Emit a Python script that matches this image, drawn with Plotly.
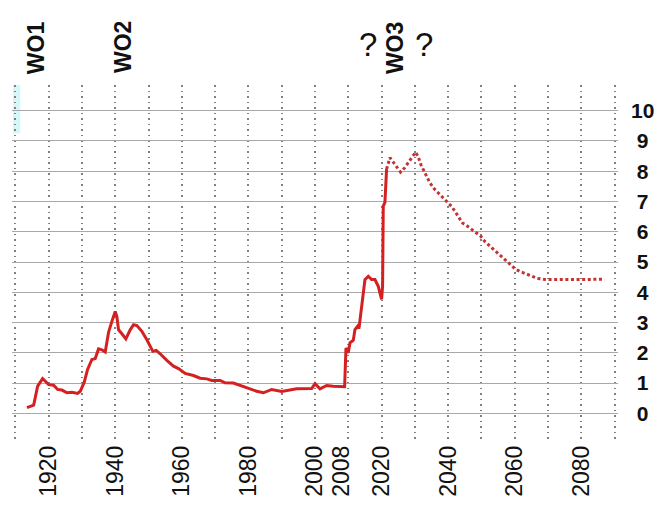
import plotly.graph_objects as go

# ---- data ----
years_actual = [1913.5, 1915.5, 1916.7, 1918.2, 1920, 1921.5, 1922.7, 1924, 1925.5, 1927,
                1928.7, 1929.5, 1930.7, 1931.7, 1933, 1934, 1935, 1936, 1937, 1938,
                1939, 1940, 1940.5, 1941, 1942, 1943.2, 1944.5, 1945.5, 1946.5, 1948,
                1949.5, 1951.3, 1952.3, 1953.5, 1955.5, 1957.5, 1959, 1961, 1963.5, 1965.5,
                1967.5, 1969, 1971.5, 1973, 1975.5, 1977.5, 1980, 1982.5, 1984.5, 1987,
                1990, 1992.5, 1994.5, 1999, 2000, 2001.5, 2003.5, 2005.5, 2007.5, 2008.9,
                2009.3, 2010, 2010.5, 2011.5, 2012, 2012.8, 2013.2, 2014, 2015, 2016,
                2017, 2018, 2019, 2020, 2020.3, 2020.5, 2021, 2021.5]
values_actual = [0.19, 0.27, 0.9, 1.15, 0.95, 0.93, 0.79, 0.77, 0.68, 0.7,
                 0.66, 0.73, 1.03, 1.45, 1.78, 1.81, 2.13, 2.1, 2.03, 2.68,
                 3.04, 3.37, 3.2, 2.76, 2.63, 2.46, 2.76, 2.93, 2.9, 2.71,
                 2.43, 2.05, 2.08, 1.97, 1.75, 1.56, 1.48, 1.32, 1.25, 1.16,
                 1.14, 1.09, 1.09, 1.01, 1.0, 0.92, 0.81, 0.73, 0.68, 0.79,
                 0.72, 0.77, 0.81, 0.82, 0.98, 0.81, 0.92, 0.9, 0.88, 0.88,
                 2.16, 2.0, 2.33, 2.42, 2.77, 2.88, 2.8, 3.55, 4.42, 4.53,
                 4.42, 4.42, 4.2, 3.77, 4.2, 6.85, 6.97, 8.07]

years_forecast = [2021.5, 2022.5, 2023.5, 2024.5, 2025.7, 2026.9, 2028, 2029, 2030.2, 2031,
                  2031.8, 2033, 2034.5, 2035.8, 2037.3, 2038.6, 2040, 2041, 2042, 2043.3,
                  2044.3, 2045.6, 2047, 2048.4, 2049.8, 2051, 2052.3, 2053.6, 2054.8, 2056,
                  2057.5, 2059, 2060.3, 2061.8, 2063.6, 2065.3, 2066.8, 2068.6, 2070.3, 2087]
values_forecast = [8.07, 8.45, 8.3, 8.13, 7.97, 8.11, 8.28, 8.45, 8.63, 8.48,
                   8.22, 7.95, 7.62, 7.42, 7.25, 7.12, 6.95, 6.84, 6.68, 6.46,
                   6.29, 6.2, 6.09, 5.98, 5.85, 5.68, 5.55, 5.4, 5.29, 5.16,
                   5.02, 4.88, 4.76, 4.68, 4.6, 4.52, 4.46, 4.43, 4.42, 4.43]

x_tick_vals = [1920, 1940, 1960, 1980, 2000, 2008, 2020, 2040, 2060, 2080]
x_tick_text = ["1920", "1940", "1960", "1980", "2000", "2008", "2020", "2040", "2060", "2080"]
y_tick_vals = [0, 1, 2, 3, 4, 5, 6, 7, 8, 9, 10]
y_tick_text = ["\u00a00", "\u00a01", "\u00a02", "\u00a03", "\u00a04", "\u00a05",
               "\u00a06", "\u00a07", "\u00a08", "\u00a09", "10"]

top_labels = ["WO1", "WO2", "?", "WO3", "?"]
top_label_years = [1916.2, 1942.3, 2015.9, 2024.0, 2032.7]

# ---- figure ----
fig = go.Figure()
fig.add_trace(go.Scatter(x=years_actual, y=values_actual, mode="lines",
                         line=dict(color="#d42020", width=3), hoverinfo="skip",
                         showlegend=False))
fig.add_trace(go.Scatter(x=years_forecast, y=values_forecast, mode="lines",
                         line=dict(color="#c23434", width=3, dash="3px,2.6px"),
                         hoverinfo="skip", showlegend=False))
# invisible trace on overlay axis for the year labels
fig.add_trace(go.Scatter(x=[x_tick_vals[0]], y=[0], xaxis="x2", mode="markers",
                         marker=dict(opacity=0), hoverinfo="skip", showlegend=False))

XR = [1909, 2091]
YR = [-0.88, 10.85]

for lab, yr in zip(top_labels, top_label_years):
    if lab == "?":
        fig.add_annotation(x=yr, y=1.1136, xref="x", yref="paper", yanchor="middle",
                           xanchor="center", text=lab, showarrow=False,
                           font=dict(family="Liberation Sans", size=33, color="#111"))
    else:
        fig.add_annotation(x=yr, y=1.1065 if lab != "WO3" else 1.1037, xref="x",
                           yref="paper", yanchor="middle", xanchor="center",
                           text="<b>" + lab + "</b>", textangle=-90, showarrow=False,
                           font=dict(family="Liberation Sans", size=23, color="#111"))

# faint cyan edge at top-left, as in the reference
fig.add_shape(type="rect", x0=1909.3, x1=1911.5, y0=9.25, y1=10.85, xref="x", yref="y",
              line=dict(width=0), fillcolor="#d6f7fa", layer="below")

fig.update_layout(
    width=660, height=505,
    margin=dict(l=12, r=42, t=85, b=65, autoexpand=False),
    paper_bgcolor="white", plot_bgcolor="white",
    xaxis=dict(range=XR, tick0=1910, dtick=10, showticklabels=False, ticks="",
               showgrid=True, gridcolor="#808080", gridwidth=1.5, griddash="1.5px,4px",
               zeroline=False, showline=False, automargin=False),
    xaxis2=dict(range=XR, overlaying="x", side="bottom", anchor="y",
                tickvals=x_tick_vals, ticktext=x_tick_text, tickangle=-90,
                showgrid=False, ticks="", zeroline=False, showline=False,
                ticklabelstandoff=0, automargin=False,
                tickfont=dict(family="Liberation Sans", size=23, color="#111")),
    yaxis=dict(range=YR, side="right", tickvals=y_tick_vals, ticktext=y_tick_text,
               showgrid=True, gridcolor="#a9a9a9", gridwidth=1.3, ticks="",
               zeroline=False, showline=False, ticklabelstandoff=12, automargin=False,
               tickfont=dict(family="Liberation Sans", size=21, color="#111",
                             weight="bold")),
)

fig.write_html("out.html", config={"displayModeBar": False},
               post_script="document.body.style.margin='0';")
